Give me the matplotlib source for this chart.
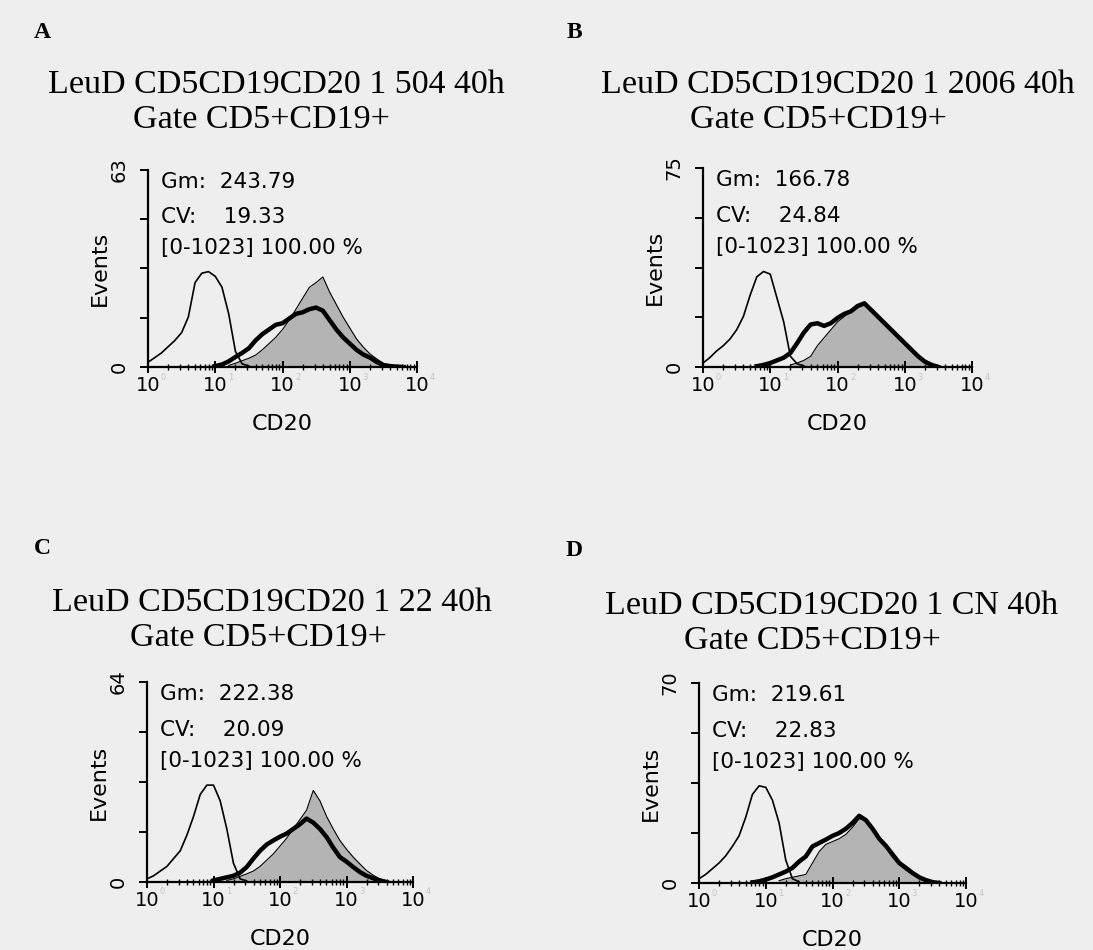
import numpy as np
import matplotlib.pyplot as plt
from matplotlib.ticker import FixedLocator, LogLocator, NullFormatter

# histogram values, one value every 0.1 decade of CD20
# (each list starts at the log10 value given in the matching *_start)
ctrl_start = 0.0
ctrl_a = [1.5, 3, 4.5, 6.5, 8.5, 11, 16, 27, 30, 30.5, 29, 25.5, 17, 5, 1.0, 0.3]
ctrl_b = [1.5, 3.5, 6, 8, 10.5, 14, 19, 27, 34, 36, 35, 26, 17, 4, 1.2, 0.4]
ctrl_c = [1, 2, 3.5, 5, 7.5, 10, 15, 21, 28, 31, 31, 26, 17, 6, 1, 0.3]
ctrl_d = [1.5, 3, 5, 7, 9.5, 12.8, 16.5, 23, 31, 34, 33.5, 29, 21, 8, 1.5, 0.4]

grey_start_a = 1.2
grey_a = [0.5, 1.2, 2, 2.8, 3.8, 5.5, 7.5, 9.5, 12, 15, 18.5, 22, 25.5, 27, 28.8,
          24, 20, 16, 12.5, 9, 6.4, 4.2, 2.6, 1.2, 0.5, 0]
grey_start_b = 1.3
grey_b = [0.8, 1.5, 2.5, 4, 8, 11, 14, 17, 19, 21, 22.5, 23.5, 21, 18.5, 16, 13.5,
          11, 8.5, 6, 3.5, 1.8, 0.6, 0]
grey_start_c = 1.2
grey_c = [0.5, 1, 1.8, 2.6, 3.5, 5, 7, 9, 11.5, 14, 17, 20, 23, 29.3, 26,
          21, 17, 13.3, 10.5, 8, 5.8, 3.7, 2.2, 1, 0.4, 0]
grey_start_d = 1.2
grey_d = [0.8, 1.5, 2, 2.5, 3, 7, 11, 13.5, 14.5, 15.5, 17, 19.5, 22.5, 22, 19,
          15.5, 12.5, 9, 6.5, 4.5, 3, 1.5, 0.5, 0]

black_start_a = 1.0
black_a = [0.3, 0.8, 1.8, 3.2, 4.5, 6, 8.5, 10.5, 12, 13.5, 14, 15.5, 17, 17.5,
           18.5, 19, 18, 15, 12, 9.5, 7.5, 5.5, 4, 3, 1.6, 0.6, 0.3, 0.1, 0]
black_start_b = 0.8
black_b = [0.3, 0.8, 1.5, 2.5, 3.5, 5.3, 9, 13, 16, 16.5, 15.5, 16.5, 18.5, 20, 21, 23,
           24, 21.5, 19, 16.5, 14, 11.5, 9, 6.5, 4, 2, 0.8, 0]
black_start_c = 1.0
black_c = [0.5, 1, 1.5, 2, 3, 4.8, 7.5, 10, 12, 13.3, 14.5, 15.5, 17, 18.5, 20.3,
           19, 17, 14.4, 11, 8, 6.5, 4.8, 3.2, 2, 1.2, 0.5, 0]
black_start_d = 0.8
black_d = [0.2, 0.6, 1.2, 2, 3, 4, 5.3, 7.5, 9.3, 12.8, 14, 15.2, 16.5, 17.5, 19, 21, 23.5,
           22, 19, 15.5, 13, 10, 7, 5.3, 3.5, 2, 1, 0.3, 0]

y_max = [63, 75, 64, 70]
gm = ['243.79', '166.78', '222.38', '219.61']
cv = ['19.33', '24.84', '20.09', '22.83']
letters = ['A', 'B', 'C', 'D']
samples = ['504', '2006', '22', 'CN']

ctrls = [ctrl_a, ctrl_b, ctrl_c, ctrl_d]
greys = [(grey_start_a, grey_a), (grey_start_b, grey_b), (grey_start_c, grey_c), (grey_start_d, grey_d)]
blacks = [(black_start_a, black_a), (black_start_b, black_b), (black_start_c, black_c), (black_start_d, black_d)]

W, H = 1093, 950
fig = plt.figure(figsize=(W / 100, H / 100), dpi=100)
fig.patch.set_facecolor('#eeeeee')

# axes boxes in pixels: left, right, top, bottom
boxes = [(148, 417, 170, 367), (703, 972, 168, 367), (147, 413, 682, 882), (699, 966, 683, 883)]
# title positions in pixels: letter (x, y), line1 centre x, line2 centre x, line1 y
heads = [((34, 32), 276, 261, 85), ((567, 32), 838, 818, 85),
         ((34, 548), 272, 258, 603), ((566, 550), 832, 812, 606)]


def xs(start, vals):
    return 10 ** np.round(start + 0.1 * np.arange(len(vals)), 2)


for i in range(4):
    l, r, t, b = boxes[i]
    ax = fig.add_axes([l / W, 1 - b / H, (r - l) / W, (b - t) / H])
    ax.set_facecolor('none')
    ymax = y_max[i]

    gs, gv = greys[i]
    bs, bv = blacks[i]
    ax.fill_between(xs(gs, gv), gv, color='#b4b4b4', lw=0, zorder=1)
    ax.plot(xs(gs, gv), gv, color='black', lw=0.8, zorder=2)
    ax.plot(xs(ctrl_start, ctrls[i]), ctrls[i], color='black', lw=1.2, zorder=3)
    ax.plot(xs(bs, bv), bv, color='black', lw=3.2, zorder=4)

    ax.set_xscale('log')
    ax.set_xlim(1, 1e4)
    ax.set_ylim(0, ymax)
    for s in ['top', 'right']:
        ax.spines[s].set_visible(False)
    ax.spines['left'].set_linewidth(1.6)
    ax.spines['bottom'].set_linewidth(1.6)

    ax.xaxis.set_major_locator(FixedLocator([1, 10, 100, 1000, 10000]))
    ax.xaxis.set_minor_locator(LogLocator(base=10, subs=np.arange(2, 10)))
    ax.xaxis.set_minor_formatter(NullFormatter())
    ax.set_xticklabels(['10'] * 5, fontsize=14, family='DejaVu Sans')
    ax.tick_params(axis='x', which='major', direction='inout', length=9, width=1.4, pad=2)
    ax.tick_params(axis='x', which='minor', direction='inout', length=4, width=1.0)
    for k in range(5):
        ax.annotate(str(k), xy=(10 ** k, 0), xytext=(9, -9), textcoords='offset points',
                    fontsize=6, color='#c4c4c4', annotation_clip=False)

    ax.set_yticks([0, ymax / 4, ymax / 2, 3 * ymax / 4, ymax])
    ax.set_yticklabels(['0', '', '', '', str(ymax)], rotation=90, va='center',
                       fontsize=14, family='DejaVu Sans')
    ax.tick_params(axis='y', direction='out', length=6, width=1.4, pad=8)

    ax.set_xlabel('CD20', fontsize=16, family='DejaVu Sans', labelpad=14)
    ax.set_ylabel('Events', fontsize=16, family='DejaVu Sans', labelpad=0)

    ax.text(0.05, 0.94, 'Gm:  ' + gm[i], transform=ax.transAxes, fontsize=15.5,
            family='DejaVu Sans', va='center')
    ax.text(0.05, 0.76, 'CV:    ' + cv[i], transform=ax.transAxes, fontsize=15.5,
            family='DejaVu Sans', va='center')
    ax.text(0.05, 0.605, '[0-1023] 100.00 %', transform=ax.transAxes, fontsize=15.5,
            family='DejaVu Sans', va='center')

    (lx, ly), c1, c2, ty = heads[i]
    fig.text(lx / W, 1 - ly / H, letters[i], fontsize=17, weight='bold',
             family='Liberation Serif', va='center')
    fig.text(c1 / W, 1 - ty / H, 'LeuD CD5CD19CD20 1 ' + samples[i] + ' 40h',
             fontsize=24.5, family='Liberation Serif', ha='center', va='center')
    fig.text(c2 / W, 1 - (ty + 35) / H, 'Gate CD5+CD19+',
             fontsize=24.5, family='Liberation Serif', ha='center', va='center')

plt.savefig('out.png', dpi=100, facecolor=fig.get_facecolor())
